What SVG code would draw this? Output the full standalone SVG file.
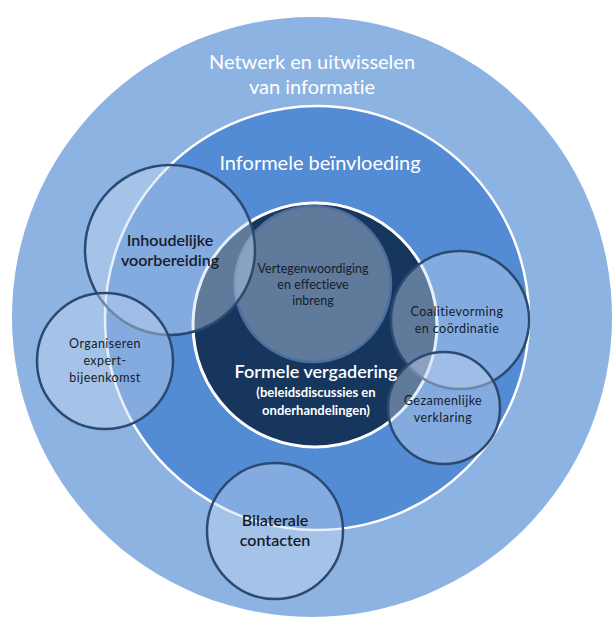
<svg xmlns="http://www.w3.org/2000/svg" width="616" height="621" viewBox="0 0 616 621">
  <style>
    .lbl { font-family: Lato, "Liberation Sans", sans-serif; text-anchor: middle; font-variant-ligatures: none; font-feature-settings: "liga" 0, "clig" 0; }
    .white { fill: #ffffff; }
    .dark { fill: #161c28; }
    .sm { font-size: 12.5px; }
    .wide { letter-spacing: 0.45px; }
    .bubble { fill: #c6d9f1; fill-opacity: 0.42; stroke: #2c4a70; stroke-width: 2.5; }
  </style>
  <rect width="616" height="621" fill="#ffffff"/>
  <g id="netwerk">
    <circle cx="312" cy="317" r="300" fill="#8db3e2"/>
    <text class="lbl white" x="312" y="69" font-size="20">Netwerk en uitwisselen</text>
    <text class="lbl white" x="312" y="94" font-size="20">van informatie</text>
  </g>
  <g id="informele">
    <circle cx="317" cy="318" r="212" fill="#538bd4" stroke="#ffffff" stroke-width="2.5"/>
    <text class="lbl white" x="320" y="170" font-size="20">Informele beïnvloeding</text>
  </g>
  <g id="formele">
    <circle cx="315" cy="325" r="122" fill="#17365d" stroke="#ffffff" stroke-width="3"/>
  </g>
  <g id="vertegenwoordiging">
    <circle cx="313" cy="284" r="78" fill="#c6d9f1" fill-opacity="0.42" stroke="#4a6e9e" stroke-width="2.5"/>
  </g>
  <g id="inhoudelijke">
    <circle class="bubble" cx="170" cy="250" r="85"/>
  </g>
  <g id="organiseren">
    <circle class="bubble" cx="105" cy="361" r="68"/>
  </g>
  <g id="coalitie">
    <circle class="bubble" cx="460" cy="320" r="69"/>
  </g>
  <g id="gezamenlijke">
    <circle class="bubble" cx="444" cy="408" r="56"/>
  </g>
  <g id="bilaterale">
    <circle class="bubble" cx="275" cy="531" r="68"/>
  </g>
  <g id="labels">
    <text class="lbl white" x="316" y="378" font-size="18" font-weight="600">Formele vergadering</text>
    <text class="lbl white" x="316" y="397" font-size="13" font-weight="bold">(beleidsdiscussies en</text>
    <text class="lbl white" x="316" y="415" font-size="13" font-weight="bold">onderhandelingen)</text>
    <text class="lbl dark sm" x="313" y="273">Vertegenwoordiging</text>
    <text class="lbl dark sm" x="313" y="289">en effectieve</text>
    <text class="lbl dark sm" x="313" y="305">inbreng</text>
    <text class="lbl dark" x="170" y="246" font-size="16" font-weight="600">Inhoudelijke</text>
    <text class="lbl dark" x="170" y="266" font-size="16" font-weight="600">voorbereiding</text>
    <text class="lbl dark sm wide" x="105" y="348">Organiseren</text>
    <text class="lbl dark sm wide" x="105" y="365">expert-</text>
    <text class="lbl dark sm wide" x="105" y="382">bijeenkomst</text>
    <text class="lbl dark sm wide" x="457" y="316">Coalitievorming</text>
    <text class="lbl dark sm wide" x="457" y="333">en coördinatie</text>
    <text class="lbl dark sm wide" x="443" y="405">Gezamenlijke</text>
    <text class="lbl dark sm wide" x="443" y="422">verklaring</text>
    <text class="lbl dark" x="275" y="526" font-size="16" font-weight="600">Bilaterale</text>
    <text class="lbl dark" x="275" y="546" font-size="16" font-weight="600">contacten</text>
  </g>
  <g id="connectors"/>
</svg>
